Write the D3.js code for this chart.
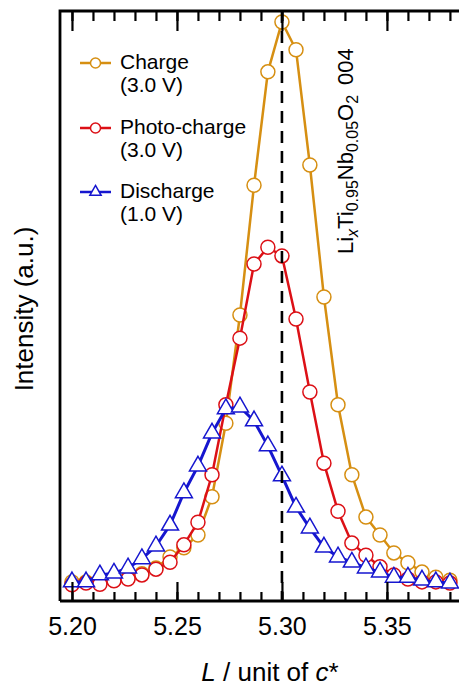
<!DOCTYPE html>
<html>
<head>
<meta charset="utf-8">
<script src="https://cdn.jsdelivr.net/npm/d3@7"></script>
<style>
  body { margin: 0; background: #fff; }
  svg { display: block; font-family: Helvetica, Arial, "Liberation Sans", sans-serif; }
</style>
</head>
<body>
<svg width="459" height="688"></svg>
<script>
// L values (unit of c*) of the scan points
var lValues = [5.2000, 5.2067, 5.2133, 5.2200, 5.2267, 5.2333, 5.2400, 5.2467, 5.2533, 5.2600,
    5.2667, 5.2733, 5.2800, 5.2867, 5.2933, 5.3000, 5.3067, 5.3133, 5.3200, 5.3267,
    5.3333, 5.3400, 5.3467, 5.3533, 5.3600, 5.3667, 5.3733, 5.3800];

var chargeValues = [0.033, 0.033, 0.033, 0.036, 0.040, 0.047, 0.057, 0.076, 0.092, 0.114,
    0.180, 0.307, 0.494, 0.718, 0.914, 1.000, 0.952, 0.753, 0.525, 0.339,
    0.218, 0.145, 0.114, 0.083, 0.066, 0.050, 0.041, 0.036];

var photoValues = [0.028, 0.031, 0.029, 0.035, 0.038, 0.045, 0.055, 0.067, 0.097, 0.136,
    0.218, 0.339, 0.454, 0.582, 0.611, 0.596, 0.487, 0.361, 0.238, 0.155,
    0.100, 0.079, 0.059, 0.045, 0.038, 0.033, 0.033, 0.031];

var dischargeValues = [0.033, 0.033, 0.045, 0.048, 0.057, 0.073, 0.095, 0.131, 0.187, 0.233,
    0.290, 0.332, 0.335, 0.311, 0.268, 0.216, 0.162, 0.126, 0.093, 0.076,
    0.067, 0.057, 0.050, 0.041, 0.041, 0.036, 0.033, 0.031];

var majorTicks = [5.20, 5.25, 5.30, 5.35];
var minorTicks = [5.20, 5.21, 5.22, 5.23, 5.24, 5.25, 5.26, 5.27, 5.28, 5.29,
    5.30, 5.31, 5.32, 5.33, 5.34, 5.35, 5.36, 5.37, 5.38];

var series = [
    {name: "Charge", volt: "(3.0 V)", values: chargeValues, color: "#d68f12", symbol: "circle"},
    {name: "Photo-charge", volt: "(3.0 V)", values: photoValues, color: "#dc1016", symbol: "circle"},
    {name: "Discharge", volt: "(1.0 V)", values: dischargeValues, color: "#1616cf", symbol: "triangle"}
];

var svg = d3.select("svg");

var plotLeft = 60, plotRight = 460, plotTop = 11, plotBottom = 601;

var x = d3.scaleLinear()
    .domain([5.1943, 5.3848])
    .range([plotLeft, plotRight]);

var y = d3.scaleLinear()
    .domain([0, 1.019])
    .range([plotBottom, plotTop]);

// series: orange first, then red, then blue on top
series.forEach(function(s) {
    var pts = lValues.map(function(l, i) { return [l, s.values[i]]; });
    var g = svg.append("g");

    g.append("path")
        .datum(pts)
        .attr("fill", "none")
        .attr("stroke", s.color)
        .attr("stroke-width", s.symbol == "triangle" ? 3 : 2.5)
        .attr("d", d3.line()
            .x((d) => x(d[0]))
            .y((d) => y(d[1])));

    if (s.symbol == "circle") {
        g.selectAll("circle")
            .data(pts)
            .enter().append("circle")
            .attr("cx", (d) => x(d[0]))
            .attr("cy", (d) => y(d[1]))
            .attr("r", 7)
            .attr("fill", "#fff")
            .attr("stroke", s.color)
            .attr("stroke-width", 1.5);
    } else {
        g.selectAll("path.tri")
            .data(pts)
            .enter().append("path")
            .attr("class", "tri")
            .attr("transform", (d) => "translate(" + x(d[0]) + "," + y(d[1]) + ")")
            .attr("d", d3.symbol().type(d3.symbolTriangle).size(125))
            .attr("fill", "#fff")
            .attr("stroke", s.color)
            .attr("stroke-width", 1.5);
    }
});

// dashed reference line at L = 5.30
svg.append("line")
    .attr("x1", x(5.30)).attr("x2", x(5.30))
    .attr("y1", plotTop).attr("y2", plotBottom)
    .attr("stroke", "#000")
    .attr("stroke-width", 2.6)
    .attr("stroke-dasharray", "12,8");

// axes: ticks point inward on bottom and top
function tickAxis(axisFn, vals, size, yPos) {
    var g = svg.append("g")
        .attr("transform", "translate(0," + yPos + ")")
        .call(axisFn(x).tickValues(vals).tickSize(size).tickFormat(""));
    g.select(".domain").remove();
    g.selectAll("line").attr("stroke-width", 2.2);
    return g;
}

tickAxis(d3.axisBottom, minorTicks, -9, plotBottom);
tickAxis(d3.axisBottom, majorTicks, -19, plotBottom);
tickAxis(d3.axisTop, minorTicks, -10, plotTop);
tickAxis(d3.axisTop, majorTicks, -20, plotTop);

var labels = svg.append("g")
    .attr("transform", "translate(0," + plotBottom + ")")
    .call(d3.axisBottom(x)
        .tickValues(majorTicks)
        .tickSize(0)
        .tickPadding(16)
        .tickFormat(d3.format(".2f")));
labels.select(".domain").remove();
labels.selectAll("text")
    .attr("font-size", 25)
    .attr("font-family", "Helvetica, Arial, 'Liberation Sans', sans-serif")
    .attr("fill", "#000");

// spines (no right spine: plot runs off the picture)
svg.append("path")
    .attr("d", "M" + plotLeft + "," + plotBottom + "V" + plotTop + "H470M" + plotLeft + "," + plotBottom + "H470")
    .attr("fill", "none")
    .attr("stroke", "#000")
    .attr("stroke-width", 2.8);

// axis titles
svg.append("text")
    .attr("transform", "translate(33,309) rotate(-90)")
    .attr("text-anchor", "middle")
    .attr("font-size", 26)
    .text("Intensity (a.u.)");

var xt = svg.append("text")
    .attr("x", 270)
    .attr("y", 681)
    .attr("text-anchor", "middle")
    .attr("font-size", 26);
xt.append("tspan").attr("font-style", "italic").text("L");
xt.append("tspan").text(" / unit of ");
xt.append("tspan").attr("font-style", "italic").text("c");
xt.append("tspan").text("*");

// compound label
var comp = svg.append("text")
    .attr("transform", "translate(353,254) rotate(-90)")
    .attr("font-size", 22);
comp.append("tspan").text("Li");
comp.append("tspan").attr("font-size", 16).attr("font-style", "italic").attr("dy", 5).text("x");
comp.append("tspan").attr("dy", -5).text("Ti");
comp.append("tspan").attr("font-size", 16).attr("dy", 5).text("0.95");
comp.append("tspan").attr("dy", -5).text("Nb");
comp.append("tspan").attr("font-size", 16).attr("dy", 5).text("0.05");
comp.append("tspan").attr("dy", -5).text("O");
comp.append("tspan").attr("font-size", 16).attr("dy", 5).text("2");
comp.append("tspan").attr("dy", -5).attr("dx", 10).text("004");

// legend
var legendY = [63, 128, 192];
series.forEach(function(s, i) {
    var g = svg.append("g").attr("transform", "translate(0," + legendY[i] + ")");
    g.append("line")
        .attr("x1", 80).attr("x2", 111)
        .attr("stroke", s.color)
        .attr("stroke-width", 2.5);
    if (s.symbol == "circle") {
        g.append("circle")
            .attr("cx", 95.5).attr("r", 5)
            .attr("fill", "#fff")
            .attr("stroke", s.color)
            .attr("stroke-width", 1.5);
    } else {
        g.append("path")
            .attr("transform", "translate(95.5,0)")
            .attr("d", d3.symbol().type(d3.symbolTriangle).size(55))
            .attr("fill", "#fff")
            .attr("stroke", s.color)
            .attr("stroke-width", 1.5);
    }
    g.append("text")
        .attr("x", 120).attr("y", 6)
        .attr("font-size", 21)
        .text(s.name);
    g.append("text")
        .attr("x", 120).attr("y", 29)
        .attr("font-size", 21)
        .text(s.volt);
});
</script>
</body>
</html>
